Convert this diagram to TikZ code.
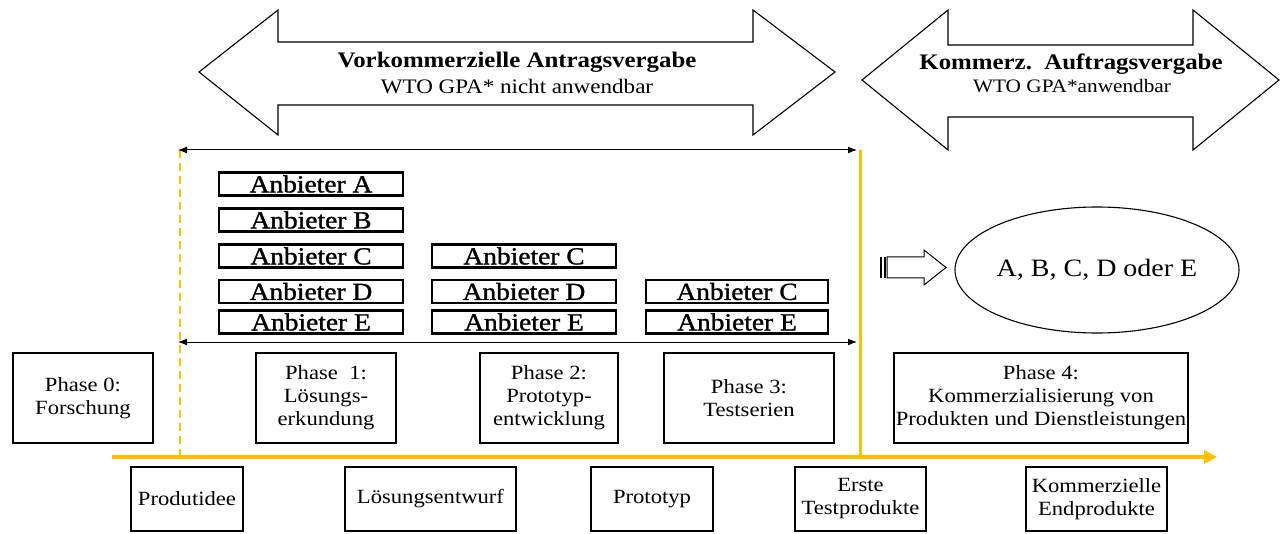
\documentclass[tikz,border=0pt]{standalone}
\usepackage{fontspec}
\setmainfont{Liberation Serif}[FakeStretch=1.12]
\newfontfamily\anbfont{Liberation Serif}[FakeStretch=1.12,FakeBold=1.2]
\usetikzlibrary{arrows.meta,shapes.geometric}
\definecolor{gold}{RGB}{255,192,0}
\begin{document}
\begin{tikzpicture}[x=1pt,y=-1pt,
  pbox/.style={draw, line width=1.2pt, align=center, inner sep=0pt, font=\fontsize{20.2}{23}\selectfont},
  abox/.style={draw, line width=2.4pt, minimum width=184, minimum height=23, inner sep=0pt, font=\anbfont\fontsize{24.5}{24.5}\selectfont},
  blockarrow/.style={draw, line width=1.1pt, fill=white, line join=miter},
  titlefont/.style={anchor=base, font=\bfseries\fontsize{22.2}{24}\selectfont},
  span/.style={draw, line width=1pt, {Latex[length=9,width=7]}-{Latex[length=9,width=7]}},
  goldline/.style={draw=gold, line width=3pt}]
\useasboundingbox (0,0) rectangle (1281,534);

% block arrows
\path[blockarrow] (199,72) -- (278,10) -- (278,42) -- (753,42) -- (753,10) -- (835,72)
  -- (753,135) -- (753,105) -- (278,105) -- (278,135) -- cycle;
\path[blockarrow] (862,80) -- (948,10) -- (948,45) -- (1193,45) -- (1193,10) -- (1279,80)
  -- (1193,150) -- (1193,117) -- (948,117) -- (948,150) -- cycle;
\node[titlefont] (t1) at (517,68) {Vorkommerzielle Antragsvergabe};
\node[anchor=base, font=\fontsize{20.6}{24}\selectfont] (s1) at (517,94) {WTO GPA* nicht anwendbar};
\node[titlefont] (t2) at (1071,70) {Kommerz.\ \ Auftragsvergabe};
\node[anchor=base, font=\fontsize{19}{24}\selectfont] (s2) at (1072,93) {WTO GPA*anwendbar};

% gold lines
\coordinate (dtop) at (180,150);
\coordinate (dbot) at (180,457);
\coordinate (stop) at (860,150);
\coordinate (sbot) at (860,457);
\coordinate (axs) at (112,457);
\coordinate (axe) at (1217,457);
\draw[draw=gold, line width=1.6pt, dash pattern=on 8pt off 5pt] (dtop) -- (dbot);
\draw[goldline] (stop) -- (sbot);
\draw[draw=gold, line width=4pt, -{Triangle[length=13,width=13]}] (axs) -- (axe);

% spans
\coordinate (a1) at (178,150);
\coordinate (a2) at (857,150);
\coordinate (b1) at (178,342);
\coordinate (b2) at (857,342);
\draw[span] (a1) -- (a2);
\draw[span] (b1) -- (b2);

% Anbieter boxes
\node[abox] (a1A) at (311,184) {Anbieter A};
\node[abox] (a1B) at (311,220) {Anbieter B};
\node[abox] (a1C) at (311,256) {Anbieter C};
\node[abox] (a1D) at (311,291.5) {Anbieter D};
\node[abox] (a1E) at (311,322) {Anbieter E};
\node[abox] (a2C) at (524,256) {Anbieter C};
\node[abox] (a2D) at (524,291.5) {Anbieter D};
\node[abox] (a2E) at (524,322) {Anbieter E};
\node[abox, minimum width=182] (a3C) at (737,291.5) {Anbieter C};
\node[abox, minimum width=182] (a3E) at (737,322) {Anbieter E};

% small striped arrow and ellipse
\fill (880,257) rectangle (882,278);
\fill (883.5,257) rectangle (885.5,278);
\path[blockarrow, line width=1pt] (887,257) -- (924,257) -- (924,250) -- (946,267.5) -- (924,285) -- (924,278) -- (887,278) -- cycle;
\node[ellipse, draw, line width=1.1pt, minimum width=284, minimum height=126, inner sep=0pt,
  font=\fontsize{25}{25}\selectfont] (res) at (1097,270) {A, B, C, D oder E};

% phase boxes
\node[pbox, minimum width=140, minimum height=90] (p0) at (83,398) {Phase 0:\\Forschung};
\node[pbox, minimum width=140, minimum height=90] (p1) at (326,398) {Phase\ \ 1:\\Lösungs-\\erkundung};
\node[pbox, minimum width=138, minimum height=90] (p2) at (549,398) {Phase 2:\\Prototyp-\\entwicklung};
\node[pbox, minimum width=170, minimum height=90] (p3) at (749,398) {Phase 3:\\Testserien};
\node[pbox, minimum width=294, minimum height=90] (p4) at (1041,398) {Phase 4:\\Kommerzialisierung von\\Produkten und Dienstleistungen};

% result boxes
\node[pbox, minimum width=112, minimum height=64] (r0) at (187,499) {Produtidee};
\node[pbox, minimum width=171, minimum height=64] (r1) at (430.5,499) {Lösungsentwurf};
\node[pbox, minimum width=122, minimum height=64] (r2) at (652,499) {Prototyp};
\node[pbox, minimum width=131, minimum height=64] (r3) at (860.5,499) {Erste\\Testprodukte};
\node[pbox, minimum width=141, minimum height=64] (r4) at (1096.5,499) {Kommerzielle\\Endprodukte};
\end{tikzpicture}
\end{document}
